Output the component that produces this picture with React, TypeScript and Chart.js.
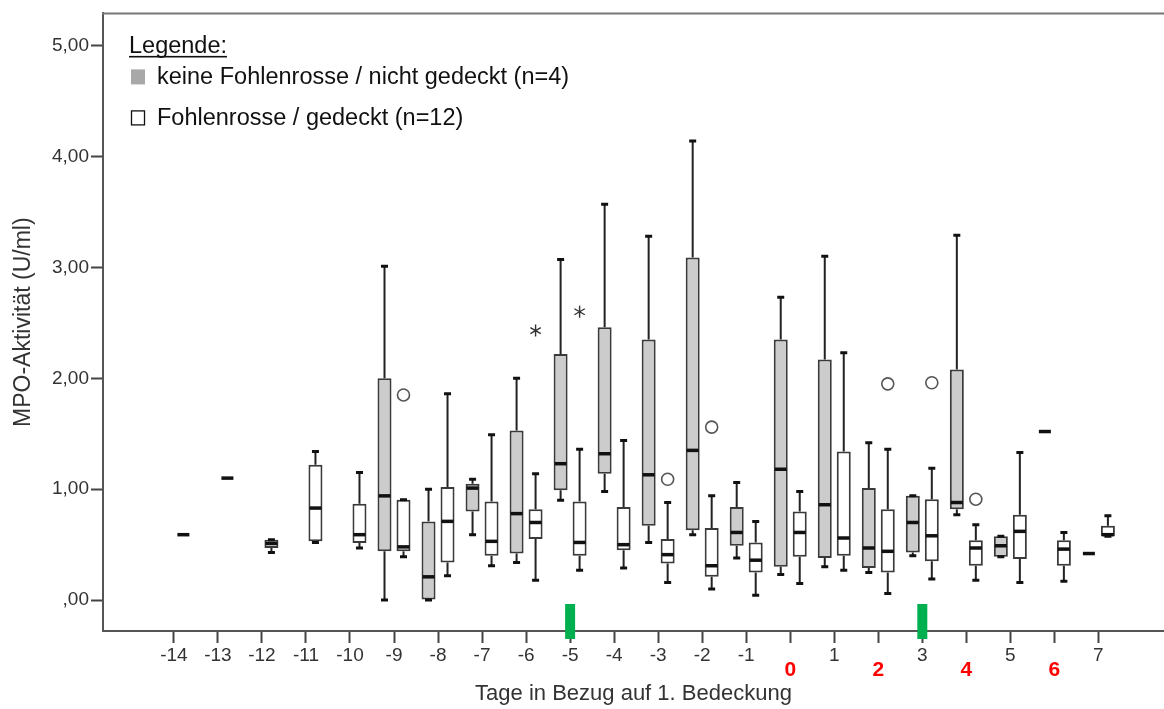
import React, { useEffect, useRef } from 'react';
import { Chart, registerables } from 'chart.js';

Chart.register(...registerables);

const FONT = "'Liberation Sans', Arial, Helvetica, sans-serif";

// Categories (days relative to first covering)
const days = [-14, -13, -12, -11, -10, -9, -8, -7, -6, -5, -4, -3, -2, -1, 0, 1, 2, 3, 4, 5, 6, 7];
const redDays = [0, 2, 4, 6];
const markerDays = [-5, 3];
const yTickValues = [0, 1, 2, 3, 4, 5];

// Group 1: keine Fohlenrosse / nicht gedeckt (grey)
const greyMin = [null, null, null, null, null, 0.0, 0.0, 0.59, 0.34, 0.9, 0.98, 0.52, 0.59, 0.38, 0.23, 0.3, 0.25, 0.4, 0.77, 0.39, 1.52, 0.42];
const greyQ1 = [null, null, null, null, null, 0.44, 0.0, 0.8, 0.42, 0.99, 1.14, 0.67, 0.63, 0.49, 0.3, 0.38, 0.29, 0.43, 0.82, 0.39, 1.52, 0.42];
const greyMed = [null, null, null, null, null, 0.94, 0.21, 1.01, 0.78, 1.23, 1.32, 1.13, 1.35, 0.61, 1.18, 0.86, 0.47, 0.7, 0.88, 0.49, 1.52, 0.42];
const greyQ3 = [null, null, null, null, null, 2.0, 0.71, 1.05, 1.53, 2.22, 2.46, 2.35, 3.09, 0.84, 2.35, 2.17, 1.01, 0.94, 2.08, 0.575, 1.52, 0.42];
const greyMax = [null, null, null, null, null, 3.01, 1.0, 1.09, 2.0, 3.07, 3.57, 3.28, 4.14, 1.06, 2.73, 3.1, 1.42, 0.94, 3.29, 0.575, 1.52, 0.42];

// Group 2: Fohlenrosse / gedeckt (white)
const whiteMin = [0.59, 1.1, 0.43, 0.52, 0.47, 0.39, 0.22, 0.31, 0.18, 0.27, 0.29, 0.16, 0.1, 0.045, 0.15, 0.27, 0.06, 0.19, 0.18, 0.16, 0.17, 0.575];
const whiteQ1 = [0.59, 1.1, 0.47, 0.53, 0.515, 0.44, 0.34, 0.4, 0.55, 0.4, 0.45, 0.33, 0.21, 0.25, 0.39, 0.4, 0.25, 0.35, 0.31, 0.37, 0.31, 0.575];
const whiteMed = [0.59, 1.1, 0.51, 0.83, 0.59, 0.48, 0.71, 0.53, 0.7, 0.52, 0.5, 0.41, 0.31, 0.36, 0.61, 0.56, 0.44, 0.58, 0.47, 0.62, 0.46, 0.59];
const whiteQ3 = [0.59, 1.1, 0.545, 1.22, 0.87, 0.905, 1.02, 0.89, 0.82, 0.89, 0.84, 0.55, 0.65, 0.52, 0.8, 1.34, 0.82, 0.91, 0.54, 0.77, 0.54, 0.67];
const whiteMax = [0.59, 1.1, 0.545, 1.34, 1.15, 0.905, 1.86, 1.49, 1.14, 1.36, 1.44, 0.88, 0.94, 0.71, 0.98, 2.23, 1.36, 1.19, 0.68, 1.33, 0.61, 0.76];

// Outliers (white group)
const outlierDays = [-9, -3, -2, 2, 3, 4];
const outlierValues = [1.85, 1.09, 1.56, 1.95, 1.96, 0.91];
const extremeDays = [-6, -5];
const extremeValues = [2.43, 2.6];

const groups = [
  { min: greyMin, q1: greyQ1, med: greyMed, q3: greyQ3, max: greyMax },
  { min: whiteMin, q1: whiteQ1, med: whiteMed, q3: whiteQ3, max: whiteMax },
];

const boxData = (q1: (number | null)[], q3: (number | null)[]) =>
  days.map((d, i) => {
    const a = q1[i];
    const b = q3[i];
    if (a == null || b == null || a === b) return { x: d, y: null };
    return { x: d, y: [a, b] };
  });

const boxPlugin = {
  id: 'boxExtras',
  afterDatasetsDraw(chart: any) {
    const ctx = chart.ctx;
    const yS = chart.scales.y;
    ctx.save();
    groups.forEach((g, ds) => {
      const meta = chart.getDatasetMeta(ds);
      days.forEach((d, i) => {
        if (g.med[i] == null) return;
        const el = meta.data[i];
        const x = el.x;
        const w = el.width && isFinite(el.width) ? el.width : 14;
        const single = g.min[i] === g.max[i];
        if (!single) {
          const pMin = yS.getPixelForValue(g.min[i]);
          const pQ1 = yS.getPixelForValue(g.q1[i]);
          const pQ3 = yS.getPixelForValue(g.q3[i]);
          const pMax = yS.getPixelForValue(g.max[i]);
          ctx.strokeStyle = '#222';
          ctx.lineWidth = 2;
          ctx.beginPath();
          ctx.moveTo(x, pQ3);
          ctx.lineTo(x, pMax);
          ctx.moveTo(x, pQ1);
          ctx.lineTo(x, pMin);
          ctx.stroke();
          ctx.lineWidth = 3;
          ctx.strokeStyle = '#111';
          ctx.beginPath();
          ctx.moveTo(x - 3.5, pMax);
          ctx.lineTo(x + 3.5, pMax);
          ctx.moveTo(x - 3.5, pMin);
          ctx.lineTo(x + 3.5, pMin);
          ctx.stroke();
        }
        const pMed = yS.getPixelForValue(g.med[i]);
        ctx.strokeStyle = '#111';
        ctx.lineWidth = 3.5;
        ctx.beginPath();
        ctx.moveTo(x - w / 2 + 1, pMed);
        ctx.lineTo(x + w / 2 - 1, pMed);
        ctx.stroke();
      });
    });
    const wMeta = chart.getDatasetMeta(1);
    ctx.strokeStyle = '#555';
    ctx.lineWidth = 1.6;
    outlierDays.forEach((d, k) => {
      const el = wMeta.data[days.indexOf(d)];
      const y = yS.getPixelForValue(outlierValues[k]);
      ctx.beginPath();
      ctx.arc(el.x, y, 6, 0, Math.PI * 2);
      ctx.stroke();
    });
    ctx.strokeStyle = '#333';
    ctx.lineWidth = 1.4;
    extremeDays.forEach((d, k) => {
      const el = wMeta.data[days.indexOf(d)];
      const y = yS.getPixelForValue(extremeValues[k]);
      ctx.beginPath();
      for (let a = 0; a < 3; a++) {
        const ang = Math.PI / 2 + (a * Math.PI) / 3;
        ctx.moveTo(el.x + 6 * Math.cos(ang), y + 6 * Math.sin(ang));
        ctx.lineTo(el.x - 6 * Math.cos(ang), y - 6 * Math.sin(ang));
      }
      ctx.stroke();
    });
    ctx.restore();
  },
  afterDraw(chart: any) {
    const ctx = chart.ctx;
    const { left, right, top, bottom } = chart.chartArea;
    const xS = chart.scales.x;
    ctx.save();
    // top frame line
    ctx.strokeStyle = '#777';
    ctx.lineWidth = 2;
    ctx.beginPath();
    ctx.moveTo(left - 1, top);
    ctx.lineTo(right, top);
    ctx.stroke();
    // green markers
    ctx.fillStyle = '#00b050';
    markerDays.forEach((d) => {
      const x = xS.getPixelForValue(d);
      ctx.fillRect(x - 5, bottom - 27, 10, 35);
    });
    // legend
    ctx.fillStyle = '#111';
    ctx.font = `23.5px ${FONT}`;
    ctx.textBaseline = 'alphabetic';
    ctx.textAlign = 'left';
    const lx = left + 26;
    ctx.fillText('Legende:', lx, top + 40);
    const lw = ctx.measureText('Legende:').width;
    ctx.fillRect(lx, top + 42.5, lw, 1.6);
    ctx.fillStyle = '#a8a8a8';
    ctx.fillRect(lx + 2, top + 56, 14, 15);
    ctx.fillStyle = '#111';
    ctx.fillText('keine Fohlenrosse / nicht gedeckt (n=4)', lx + 28, top + 71);
    ctx.strokeStyle = '#111';
    ctx.lineWidth = 1.3;
    ctx.strokeRect(lx + 2.5, top + 97.5, 13, 14);
    ctx.fillText('Fohlenrosse / gedeckt (n=12)', lx + 28, top + 112);
    ctx.restore();
  },
};

export default function App() {
  const ref = useRef<HTMLCanvasElement | null>(null);
  useEffect(() => {
    document.body.style.margin = '0';
    if (!ref.current) return;
    const chart = new Chart(ref.current, {
      type: 'bar',
      data: {
        datasets: [
          {
            label: 'keine Fohlenrosse / nicht gedeckt (n=4)',
            data: boxData(greyQ1, greyQ3) as any,
            backgroundColor: '#cccccc',
            borderColor: '#3a3a3a',
            borderWidth: 2,
            borderSkipped: false,
            categoryPercentage: 0.863,
            barPercentage: 0.737,
          },
          {
            label: 'Fohlenrosse / gedeckt (n=12)',
            data: boxData(whiteQ1, whiteQ3) as any,
            backgroundColor: '#ffffff',
            borderColor: '#3a3a3a',
            borderWidth: 2,
            borderSkipped: false,
            categoryPercentage: 0.863,
            barPercentage: 0.737,
          },
        ],
      },
      options: {
        responsive: false,
        animation: false,
        devicePixelRatio: 1,
        layout: { padding: { top: 11, left: 0, right: 0, bottom: 0 } },
        plugins: { legend: { display: false }, tooltip: { enabled: false } },
        scales: {
          x: {
            type: 'linear',
            min: -15.61,
            max: 8.49,
            offset: false,
            afterBuildTicks: (s: any) => {
              s.ticks = days.map((v) => ({ value: v }));
            },
            afterFit: (s: any) => {
              s.height = 78;
            },
            border: { display: true, color: '#555', width: 2 },
            grid: { display: true, offset: false, drawOnChartArea: false, drawTicks: true, tickLength: 12, tickColor: '#444', tickWidth: 2 },
            ticks: {
              autoSkip: false,
              maxRotation: 0,
              padding: 1,
              callback: (v: any) => String(v),
              color: (c: any) => (c.tick && redDays.includes(c.tick.value) ? '#ff0000' : '#333'),
              font: (c: any) =>
                c.tick && redDays.includes(c.tick.value)
                  ? { family: FONT, size: 21, weight: 'bold', lineHeight: 2.48 }
                  : { family: FONT, size: 19, lineHeight: 1.2 },
            },
            title: {
              display: true,
              text: 'Tage in Bezug auf 1. Bedeckung',
              color: '#333',
              font: { family: FONT, size: 22 },
              padding: { top: 0, bottom: 2 },
            },
          },
          y: {
            type: 'linear',
            min: -0.2784,
            max: 5.29,
            afterBuildTicks: (s: any) => {
              s.ticks = yTickValues.map((v) => ({ value: v }));
            },
            afterFit: (s: any) => {
              s.width = 103;
            },
            border: { display: true, color: '#555', width: 2 },
            grid: { display: true, drawOnChartArea: false, drawTicks: true, tickLength: 12, tickColor: '#444', tickWidth: 2 },
            ticks: {
              padding: 2,
              color: '#333',
              font: { family: FONT, size: 19 },
              callback: (v: any) => (v === 0 ? ',00' : Number(v).toFixed(2).replace('.', ',')),
            },
            title: {
              display: true,
              text: 'MPO-Aktivität (U/ml)',
              color: '#333',
              font: { family: FONT, size: 23 },
              padding: { top: 10, bottom: 0 },
            },
          },
        },
      } as any,
      plugins: [boxPlugin],
    });
    return () => chart.destroy();
  }, []);
  return <canvas ref={ref} width={1164} height={709} style={{ display: 'block' }} />;
}
